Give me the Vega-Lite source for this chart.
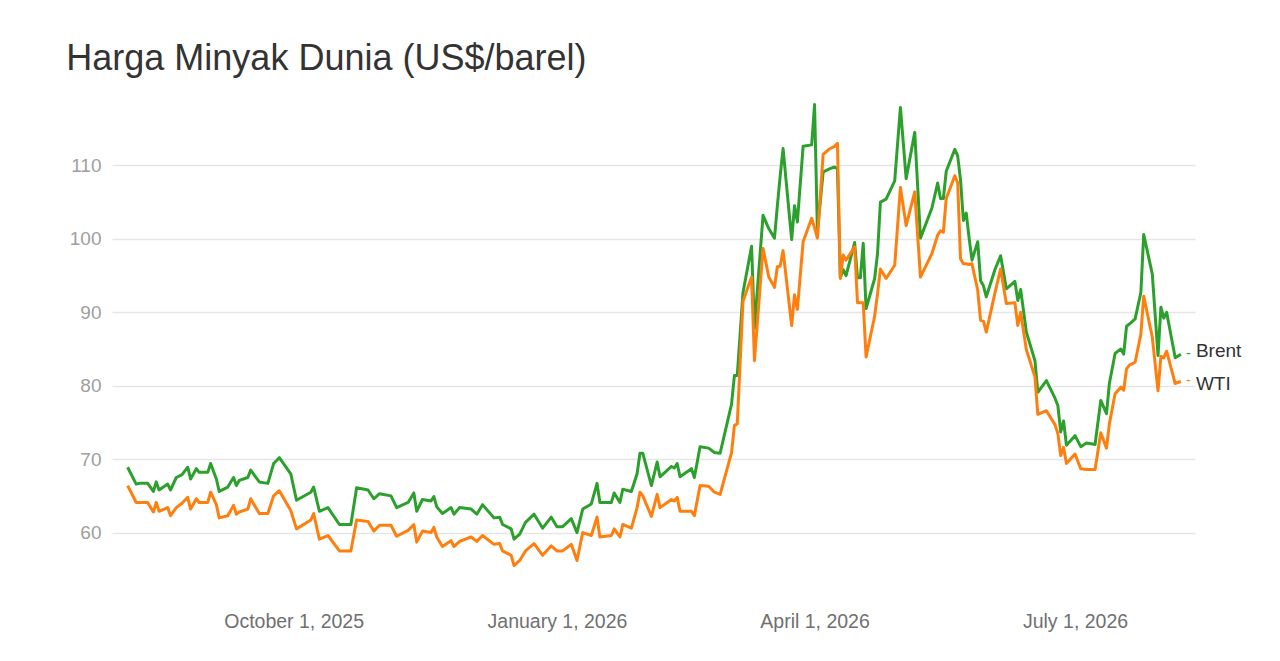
{
  "$schema": "https://vega.github.io/schema/vega-lite/v6.json",
  "autosize": {"type": "none"},
  "padding": {"left": 112, "top": 92, "right": 85, "bottom": 55},
  "width": 1083,
  "height": 514,
  "background": "white",
  "title": {
    "text": "Harga Minyak Dunia (US$/barel)",
    "anchor": "start",
    "dx": -3,
    "offset": 14,
    "font": "Liberation Sans",
    "fontSize": 36,
    "fontWeight": "normal",
    "color": "#333333"
  },
  "config": {
    "view": {"stroke": null},
    "font": "Liberation Sans"
  },
  "data": {
    "values": [
      {"date": "2025-08-04", "Brent": 68.9, "WTI": 66.4},
      {"date": "2025-08-07", "Brent": 66.6, "WTI": 64.1},
      {"date": "2025-08-08", "Brent": 66.7, "WTI": 64.1},
      {"date": "2025-08-11", "Brent": 66.7, "WTI": 64.1},
      {"date": "2025-08-13", "Brent": 65.6, "WTI": 62.8},
      {"date": "2025-08-14", "Brent": 66.9, "WTI": 64.1},
      {"date": "2025-08-15", "Brent": 65.8, "WTI": 62.9},
      {"date": "2025-08-18", "Brent": 66.6, "WTI": 63.4},
      {"date": "2025-08-19", "Brent": 65.8, "WTI": 62.3},
      {"date": "2025-08-21", "Brent": 67.5, "WTI": 63.4},
      {"date": "2025-08-23", "Brent": 67.9, "WTI": 64.0},
      {"date": "2025-08-25", "Brent": 68.9, "WTI": 64.8},
      {"date": "2025-08-26", "Brent": 67.3, "WTI": 63.2},
      {"date": "2025-08-28", "Brent": 68.7, "WTI": 64.6},
      {"date": "2025-08-29", "Brent": 68.2, "WTI": 64.1},
      {"date": "2025-09-01", "Brent": 68.2, "WTI": 64.1},
      {"date": "2025-09-02", "Brent": 69.4, "WTI": 65.5},
      {"date": "2025-09-04", "Brent": 67.3, "WTI": 63.8},
      {"date": "2025-09-05", "Brent": 65.6, "WTI": 62.0},
      {"date": "2025-09-08", "Brent": 66.2, "WTI": 62.3},
      {"date": "2025-09-10", "Brent": 67.5, "WTI": 63.7},
      {"date": "2025-09-11", "Brent": 66.4, "WTI": 62.5},
      {"date": "2025-09-12", "Brent": 67.1, "WTI": 62.8},
      {"date": "2025-09-15", "Brent": 67.5, "WTI": 63.2},
      {"date": "2025-09-16", "Brent": 68.5, "WTI": 64.6},
      {"date": "2025-09-19", "Brent": 66.9, "WTI": 62.6},
      {"date": "2025-09-22", "Brent": 66.7, "WTI": 62.6},
      {"date": "2025-09-24", "Brent": 69.4, "WTI": 65.0},
      {"date": "2025-09-26", "Brent": 70.2, "WTI": 65.7},
      {"date": "2025-09-30", "Brent": 68.0, "WTI": 63.0},
      {"date": "2025-10-02", "Brent": 64.4, "WTI": 60.5},
      {"date": "2025-10-07", "Brent": 65.5, "WTI": 61.7},
      {"date": "2025-10-08", "Brent": 66.2, "WTI": 62.6},
      {"date": "2025-10-10", "Brent": 62.9, "WTI": 59.1},
      {"date": "2025-10-13", "Brent": 63.4, "WTI": 59.6},
      {"date": "2025-10-17", "Brent": 61.1, "WTI": 57.5},
      {"date": "2025-10-21", "Brent": 61.1, "WTI": 57.5},
      {"date": "2025-10-23", "Brent": 66.1, "WTI": 61.7},
      {"date": "2025-10-27", "Brent": 65.8, "WTI": 61.5},
      {"date": "2025-10-29", "Brent": 64.6, "WTI": 60.2},
      {"date": "2025-10-31", "Brent": 65.3, "WTI": 61.0},
      {"date": "2025-11-04", "Brent": 65.0, "WTI": 61.0},
      {"date": "2025-11-06", "Brent": 63.4, "WTI": 59.5},
      {"date": "2025-11-10", "Brent": 64.1, "WTI": 60.3},
      {"date": "2025-11-12", "Brent": 65.4, "WTI": 61.1},
      {"date": "2025-11-13", "Brent": 62.9, "WTI": 58.7},
      {"date": "2025-11-15", "Brent": 64.5, "WTI": 60.2},
      {"date": "2025-11-18", "Brent": 64.3, "WTI": 60.0},
      {"date": "2025-11-19", "Brent": 64.9, "WTI": 60.7},
      {"date": "2025-11-20", "Brent": 63.5, "WTI": 59.4},
      {"date": "2025-11-22", "Brent": 62.6, "WTI": 58.1},
      {"date": "2025-11-25", "Brent": 63.4, "WTI": 58.9},
      {"date": "2025-11-26", "Brent": 62.5, "WTI": 58.1},
      {"date": "2025-11-28", "Brent": 63.4, "WTI": 58.8},
      {"date": "2025-12-02", "Brent": 63.2, "WTI": 59.4},
      {"date": "2025-12-04", "Brent": 62.5, "WTI": 58.8},
      {"date": "2025-12-06", "Brent": 63.8, "WTI": 59.6},
      {"date": "2025-12-10", "Brent": 62.0, "WTI": 58.4},
      {"date": "2025-12-12", "Brent": 62.1, "WTI": 58.5},
      {"date": "2025-12-13", "Brent": 61.1, "WTI": 57.5},
      {"date": "2025-12-16", "Brent": 60.5, "WTI": 56.9},
      {"date": "2025-12-17", "Brent": 59.1, "WTI": 55.5},
      {"date": "2025-12-19", "Brent": 59.8, "WTI": 56.2},
      {"date": "2025-12-21", "Brent": 61.4, "WTI": 57.5},
      {"date": "2025-12-24", "Brent": 62.5, "WTI": 58.5},
      {"date": "2025-12-27", "Brent": 60.6, "WTI": 56.9},
      {"date": "2025-12-30", "Brent": 62.1, "WTI": 58.2},
      {"date": "2026-01-01", "Brent": 60.8, "WTI": 57.5},
      {"date": "2026-01-03", "Brent": 60.8, "WTI": 57.5},
      {"date": "2026-01-06", "Brent": 61.9, "WTI": 58.4},
      {"date": "2026-01-08", "Brent": 60.0, "WTI": 56.2},
      {"date": "2026-01-10", "Brent": 63.2, "WTI": 60.0},
      {"date": "2026-01-13", "Brent": 63.9, "WTI": 59.6},
      {"date": "2026-01-15", "Brent": 66.7, "WTI": 62.1},
      {"date": "2026-01-16", "Brent": 64.1, "WTI": 59.4},
      {"date": "2026-01-20", "Brent": 64.1, "WTI": 59.6},
      {"date": "2026-01-21", "Brent": 65.4, "WTI": 60.5},
      {"date": "2026-01-23", "Brent": 64.1, "WTI": 59.4},
      {"date": "2026-01-24", "Brent": 65.9, "WTI": 61.1},
      {"date": "2026-01-27", "Brent": 65.6, "WTI": 60.6},
      {"date": "2026-01-29", "Brent": 68.0, "WTI": 63.4},
      {"date": "2026-01-30", "Brent": 70.8, "WTI": 65.5},
      {"date": "2026-01-31", "Brent": 70.8, "WTI": 65.0},
      {"date": "2026-02-03", "Brent": 66.4, "WTI": 62.2},
      {"date": "2026-02-05", "Brent": 69.6, "WTI": 65.2},
      {"date": "2026-02-06", "Brent": 67.6, "WTI": 63.4},
      {"date": "2026-02-10", "Brent": 69.0, "WTI": 64.5},
      {"date": "2026-02-11", "Brent": 68.8, "WTI": 64.3},
      {"date": "2026-02-12", "Brent": 69.4, "WTI": 64.8},
      {"date": "2026-02-13", "Brent": 67.6, "WTI": 62.9},
      {"date": "2026-02-17", "Brent": 68.7, "WTI": 62.9},
      {"date": "2026-02-18", "Brent": 67.5, "WTI": 62.3},
      {"date": "2026-02-20", "Brent": 71.7, "WTI": 66.4},
      {"date": "2026-02-23", "Brent": 71.5, "WTI": 66.3},
      {"date": "2026-02-25", "Brent": 70.9, "WTI": 65.5},
      {"date": "2026-02-27", "Brent": 70.8, "WTI": 65.2},
      {"date": "2026-03-03", "Brent": 77.5, "WTI": 70.9},
      {"date": "2026-03-04", "Brent": 81.4, "WTI": 74.6},
      {"date": "2026-03-05", "Brent": 81.4, "WTI": 74.8},
      {"date": "2026-03-07", "Brent": 92.7, "WTI": 91.5},
      {"date": "2026-03-10", "Brent": 99.0, "WTI": 94.8},
      {"date": "2026-03-11", "Brent": 87.8, "WTI": 83.4},
      {"date": "2026-03-14", "Brent": 103.2, "WTI": 98.7},
      {"date": "2026-03-16", "Brent": 101.4, "WTI": 94.8},
      {"date": "2026-03-18", "Brent": 100.1, "WTI": 93.4},
      {"date": "2026-03-19", "Brent": 104.5, "WTI": 96.2},
      {"date": "2026-03-20", "Brent": 108.6, "WTI": 96.3},
      {"date": "2026-03-21", "Brent": 112.3, "WTI": 98.4},
      {"date": "2026-03-24", "Brent": 99.9, "WTI": 88.2},
      {"date": "2026-03-25", "Brent": 104.5, "WTI": 92.4},
      {"date": "2026-03-26", "Brent": 102.3, "WTI": 90.4},
      {"date": "2026-03-28", "Brent": 112.6, "WTI": 99.6},
      {"date": "2026-03-31", "Brent": 112.8, "WTI": 102.8},
      {"date": "2026-04-01", "Brent": 118.3, "WTI": 101.5},
      {"date": "2026-04-02", "Brent": 101.0, "WTI": 100.1},
      {"date": "2026-04-04", "Brent": 109.1, "WTI": 111.5},
      {"date": "2026-04-06", "Brent": 109.5, "WTI": 112.2},
      {"date": "2026-04-08", "Brent": 109.8, "WTI": 112.6},
      {"date": "2026-04-09", "Brent": 109.5, "WTI": 113.0},
      {"date": "2026-04-10", "Brent": 94.7, "WTI": 94.6},
      {"date": "2026-04-11", "Brent": 95.8, "WTI": 97.8},
      {"date": "2026-04-12", "Brent": 95.0, "WTI": 97.1},
      {"date": "2026-04-15", "Brent": 99.5, "WTI": 98.9},
      {"date": "2026-04-16", "Brent": 94.7, "WTI": 91.3},
      {"date": "2026-04-17", "Brent": 94.7, "WTI": 91.3},
      {"date": "2026-04-18", "Brent": 99.4, "WTI": 91.3},
      {"date": "2026-04-19", "Brent": 90.5, "WTI": 83.9},
      {"date": "2026-04-22", "Brent": 94.6, "WTI": 89.5},
      {"date": "2026-04-23", "Brent": 98.0, "WTI": 92.5},
      {"date": "2026-04-24", "Brent": 105.0, "WTI": 95.9},
      {"date": "2026-04-26", "Brent": 105.4, "WTI": 94.6},
      {"date": "2026-04-29", "Brent": 107.9, "WTI": 96.4},
      {"date": "2026-05-01", "Brent": 117.9, "WTI": 107.0},
      {"date": "2026-05-03", "Brent": 108.2, "WTI": 101.8},
      {"date": "2026-05-06", "Brent": 114.5, "WTI": 106.4},
      {"date": "2026-05-08", "Brent": 100.1, "WTI": 94.8},
      {"date": "2026-05-12", "Brent": 104.2, "WTI": 98.0},
      {"date": "2026-05-14", "Brent": 107.6, "WTI": 100.5},
      {"date": "2026-05-15", "Brent": 105.5, "WTI": 101.1},
      {"date": "2026-05-16", "Brent": 105.5, "WTI": 100.9},
      {"date": "2026-05-17", "Brent": 109.2, "WTI": 105.5},
      {"date": "2026-05-20", "Brent": 112.2, "WTI": 108.6},
      {"date": "2026-05-21", "Brent": 111.3, "WTI": 107.6},
      {"date": "2026-05-22", "Brent": 108.0, "WTI": 97.3},
      {"date": "2026-05-23", "Brent": 102.5, "WTI": 96.6},
      {"date": "2026-05-24", "Brent": 103.5, "WTI": 96.6},
      {"date": "2026-05-25", "Brent": 100.1, "WTI": 96.5},
      {"date": "2026-05-26", "Brent": 97.1, "WTI": 96.6},
      {"date": "2026-05-28", "Brent": 99.6, "WTI": 93.0},
      {"date": "2026-05-29", "Brent": 94.3, "WTI": 88.9},
      {"date": "2026-05-30", "Brent": 93.6, "WTI": 88.8},
      {"date": "2026-05-31", "Brent": 92.1, "WTI": 87.3},
      {"date": "2026-06-03", "Brent": 95.8, "WTI": 92.6},
      {"date": "2026-06-05", "Brent": 97.7, "WTI": 95.9},
      {"date": "2026-06-07", "Brent": 93.2, "WTI": 91.2},
      {"date": "2026-06-10", "Brent": 94.2, "WTI": 91.3},
      {"date": "2026-06-11", "Brent": 91.6, "WTI": 88.2},
      {"date": "2026-06-12", "Brent": 93.1, "WTI": 90.0},
      {"date": "2026-06-14", "Brent": 87.3, "WTI": 84.9},
      {"date": "2026-06-17", "Brent": 83.4, "WTI": 81.2},
      {"date": "2026-06-18", "Brent": 79.1, "WTI": 76.1},
      {"date": "2026-06-21", "Brent": 80.7, "WTI": 76.6},
      {"date": "2026-06-24", "Brent": 78.3, "WTI": 74.7},
      {"date": "2026-06-25", "Brent": 77.3, "WTI": 73.5},
      {"date": "2026-06-26", "Brent": 73.7, "WTI": 70.5},
      {"date": "2026-06-27", "Brent": 75.2, "WTI": 71.6},
      {"date": "2026-06-28", "Brent": 71.9, "WTI": 69.4},
      {"date": "2026-07-01", "Brent": 73.2, "WTI": 70.7},
      {"date": "2026-07-03", "Brent": 71.7, "WTI": 68.7},
      {"date": "2026-07-05", "Brent": 72.2, "WTI": 68.6},
      {"date": "2026-07-08", "Brent": 72.0, "WTI": 68.6},
      {"date": "2026-07-10", "Brent": 78.0, "WTI": 73.6},
      {"date": "2026-07-12", "Brent": 76.2, "WTI": 71.5},
      {"date": "2026-07-13", "Brent": 80.3, "WTI": 74.8},
      {"date": "2026-07-15", "Brent": 84.4, "WTI": 78.9},
      {"date": "2026-07-17", "Brent": 85.0, "WTI": 79.8},
      {"date": "2026-07-18", "Brent": 84.3, "WTI": 79.4},
      {"date": "2026-07-19", "Brent": 88.1, "WTI": 82.3},
      {"date": "2026-07-20", "Brent": 88.4, "WTI": 82.8},
      {"date": "2026-07-22", "Brent": 89.1, "WTI": 83.2},
      {"date": "2026-07-24", "Brent": 92.7, "WTI": 87.0},
      {"date": "2026-07-25", "Brent": 100.6, "WTI": 92.2},
      {"date": "2026-07-28", "Brent": 95.2, "WTI": 86.6},
      {"date": "2026-07-30", "Brent": 84.1, "WTI": 79.3},
      {"date": "2026-07-31", "Brent": 90.7, "WTI": 84.0},
      {"date": "2026-08-01", "Brent": 89.2, "WTI": 83.8},
      {"date": "2026-08-02", "Brent": 90.0, "WTI": 84.7},
      {"date": "2026-08-05", "Brent": 83.8, "WTI": 80.3},
      {"date": "2026-08-07", "Brent": 84.3, "WTI": 80.6}
    ]
  },
  "transform": [
    {"fold": ["Brent", "WTI"], "as": ["series", "price"]}
  ],
  "encoding": {
    "x": {
      "field": "date",
      "type": "temporal",
      "title": null,
      "scale": {
        "domain": [
          {"year": 2025, "month": 7, "date": 29, "hours": 13},
          {"year": 2026, "month": 8, "date": 11, "hours": 22}
        ]
      },
      "axis": {
        "values": [
          {"year": 2025, "month": 10, "date": 1},
          {"year": 2026, "month": 1, "date": 1},
          {"year": 2026, "month": 4, "date": 1},
          {"year": 2026, "month": 7, "date": 1}
        ],
        "format": "%B %-d, %Y",
        "grid": false,
        "domain": false,
        "ticks": false,
        "labelPadding": 6,
        "labelFontSize": 19.5,
        "labelColor": "#707070",
        "labelFont": "Liberation Sans"
      }
    },
    "y": {
      "field": "price",
      "type": "quantitative",
      "title": null,
      "scale": {"domain": [50, 120], "nice": false, "zero": false},
      "axis": {
        "values": [60, 70, 80, 90, 100, 110],
        "grid": true,
        "gridColor": "#e6e6e6",
        "gridWidth": 1.5,
        "domain": false,
        "ticks": false,
        "labelPadding": 11,
        "labelFontSize": 19,
        "labelColor": "#9e9e9e",
        "labelFont": "Liberation Sans"
      }
    },
    "color": {
      "field": "series",
      "type": "nominal",
      "scale": {"domain": ["Brent", "WTI"], "range": ["#2ca02c", "#ff7f0e"]},
      "legend": null
    }
  },
  "layer": [
    {"mark": {"type": "line", "strokeWidth": 3, "strokeJoin": "round"}},
    {
      "transform": [
        {"filter": {"field": "date", "timeUnit": "yearmonthdate", "equal": {"year": 2026, "month": 8, "date": 7}}}
      ],
      "mark": {"type": "text", "text": "-", "align": "left", "baseline": "middle", "dx": 5, "fontSize": 14}
    },
    {
      "transform": [
        {"filter": {"field": "date", "timeUnit": "yearmonthdate", "equal": {"year": 2026, "month": 8, "date": 7}}},
        {"filter": {"field": "series", "equal": "Brent"}}
      ],
      "mark": {"type": "text", "align": "left", "baseline": "middle", "dx": 15, "dy": -3, "fontSize": 19, "font": "Liberation Sans"},
      "encoding": {
        "text": {"field": "series"},
        "color": {"value": "#333333"}
      }
    },
    {
      "transform": [
        {"filter": {"field": "date", "timeUnit": "yearmonthdate", "equal": {"year": 2026, "month": 8, "date": 7}}},
        {"filter": {"field": "series", "equal": "WTI"}}
      ],
      "mark": {"type": "text", "align": "left", "baseline": "middle", "dx": 15, "dy": 3, "fontSize": 19, "font": "Liberation Sans"},
      "encoding": {
        "text": {"field": "series"},
        "color": {"value": "#333333"}
      }
    }
  ]
}
